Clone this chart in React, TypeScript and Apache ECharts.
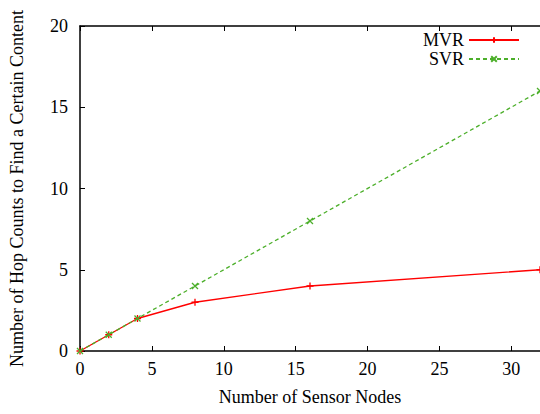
import React, { useEffect, useRef } from "react";
import * as echarts from "echarts";

const nodes = [0, 2, 4, 8, 16, 32];
const mvr = [0, 1, 2, 3, 4, 5];
const svr = [0, 1, 2, 4, 8, 16];
const xTitle = "Number of Sensor Nodes";
const yTitle = "Number of Hop Counts to Find a Certain Content";

const FONT = "Liberation Serif";
const FS = 18;

export default function App() {
  const ref = useRef<HTMLDivElement>(null);
  useEffect(() => {
    const chart = echarts.init(ref.current!, undefined, { renderer: "svg" });
    const axisLine = { show: true, lineStyle: { color: "#000", width: 1.5 } };
    const tick = { show: true, inside: true, length: 5, lineStyle: { color: "#000", width: 1 } };
    const label = { color: "#000", fontSize: FS, fontFamily: FONT };
    chart.setOption({
      animation: false,
      backgroundColor: "#fff",
      textStyle: { fontFamily: FONT },
      grid: { left: 80, right: 0, top: 26, bottom: 63, containLabel: false },
      legend: {
        orient: "vertical",
        right: 15,
        top: 26,
        align: "right",
        itemWidth: 50,
        itemHeight: 7,
        itemGap: 1,
        textStyle: { color: "#000", fontSize: FS, fontFamily: FONT },
        data: ["MVR", "SVR"],
      },
      xAxis: [
        {
          type: "value",
          min: 0,
          max: 32,
          interval: 5,
          axisLine,
          axisTick: tick,
          splitLine: { show: false },
          axisLabel: { ...label, margin: 9, showMaxLabel: false },
          name: xTitle,
          nameLocation: "middle",
          nameGap: 37,
          nameTextStyle: { color: "#000", fontSize: FS, fontFamily: FONT },
        },
        {
          type: "value",
          position: "top",
          min: 0,
          max: 32,
          interval: 5,
          axisLine,
          axisTick: tick,
          splitLine: { show: false },
          axisLabel: { show: false },
        },
      ],
      yAxis: {
        type: "value",
        min: 0,
        max: 20,
        interval: 5,
        axisLine,
        axisTick: tick,
        splitLine: { show: false },
        axisLabel: { ...label, margin: 12 },
        name: yTitle,
        nameLocation: "middle",
        nameGap: 54,
        nameTextStyle: { color: "#000", fontSize: FS, fontFamily: FONT },
      },
      series: [
        {
          name: "MVR",
          type: "line",
          data: nodes.map((x, i) => [x, mvr[i]]),
          symbol: "path://M0,5L10,5M5,0L5,10",
          symbolSize: 7,
          lineStyle: { color: "#ff0000", width: 1.3 },
          itemStyle: { color: "none", borderColor: "#ff0000", borderWidth: 1.3 },
          z: 3,
        },
        {
          name: "SVR",
          type: "line",
          data: nodes.map((x, i) => [x, svr[i]]),
          symbol: "path://M0,0L10,10M10,0L0,10",
          symbolSize: 6,
          lineStyle: { color: "#4caf2a", width: 1.3, type: [4, 3] },
          itemStyle: { color: "none", borderColor: "#4caf2a", borderWidth: 1.3 },
          z: 4,
        },
      ],
    });
    return () => chart.dispose();
  }, []);
  return <div ref={ref} style={{ width: 540, height: 414, position: "absolute", left: 0, top: 0 }} />;
}
